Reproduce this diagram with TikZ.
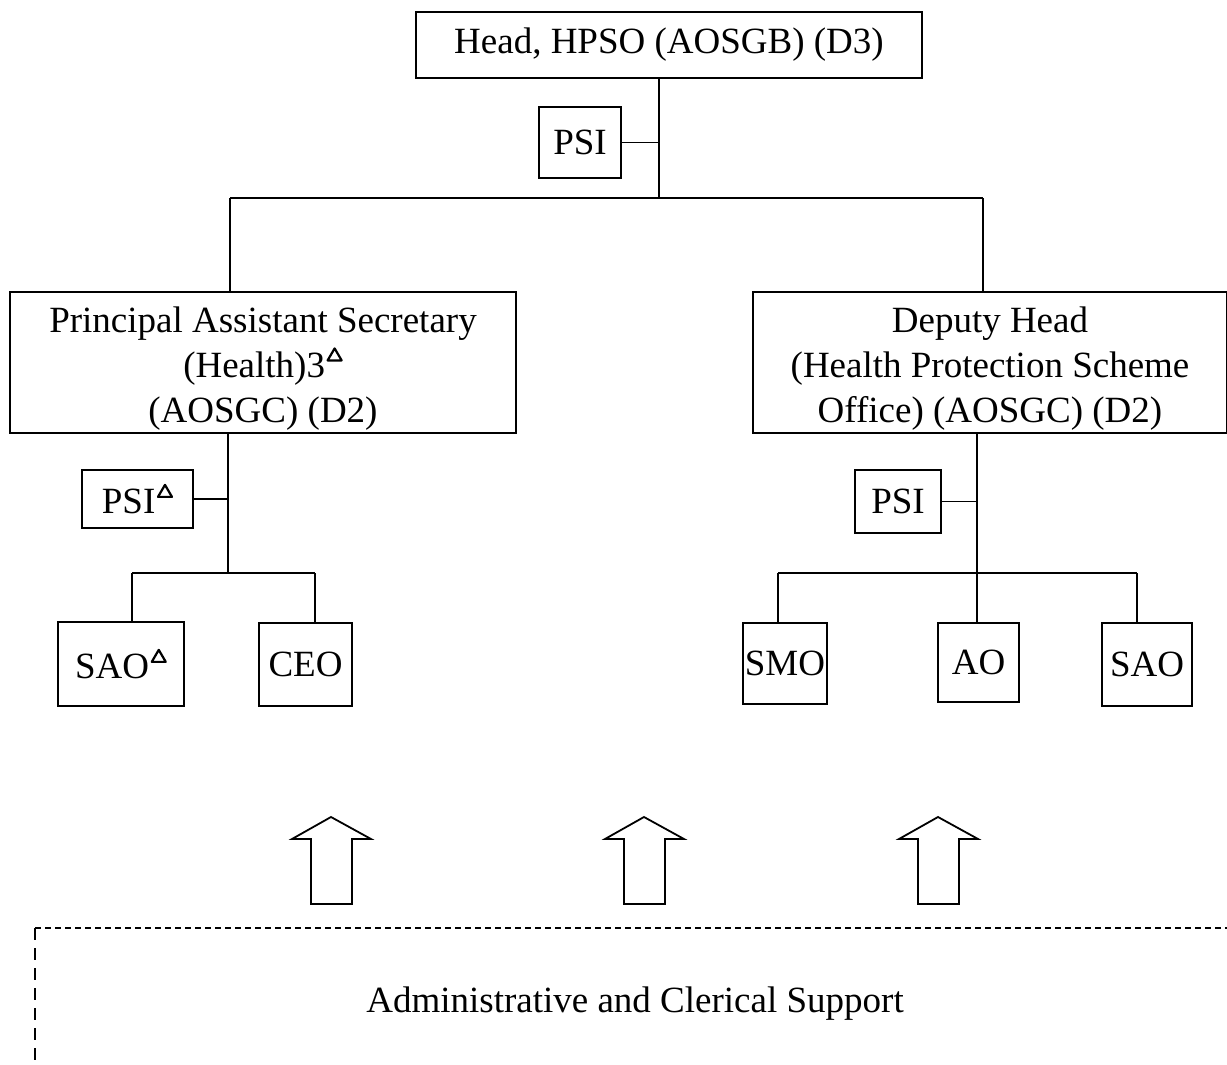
\documentclass[tikz,border=0pt]{standalone}
\usepackage{fontspec}
\setmainfont{Liberation Serif}
\newcommand{\tri}{\kern1.5pt\tikz[baseline=0pt,x=1pt,y=1pt]\draw[line width=2.2pt,line join=round] (0,17)--(14,17)--(7,29)--cycle;}
\begin{document}
\begin{tikzpicture}[x=1pt,y=-1pt,
  every node/.style={font=\fontsize{37}{45}\selectfont, inner sep=0pt, align=center},
  box/.style={draw, line width=1.8pt},
  conn/.style={line width=1.8pt},
  blockarrow/.style={draw, line width=1.8pt, line join=miter}
]
\useasboundingbox (0,0) rectangle (1227,1065);

% boxes
\node[box, minimum width=506pt, minimum height=66pt] (top) at (669,45) {Head, HPSO (AOSGB) (D3)};
\node[box, minimum width=82pt, minimum height=71pt] (psi) at (580,142.5) {PSI};
\node[box, minimum width=506pt, minimum height=141pt] (pas) at (263,362.5) {};
\node (pasT) at ([yshift=-6pt]pas.center) {Principal Assistant Secretary\\(Health)3\tri\\(AOSGC) (D2)};
\node[box, minimum width=474pt, minimum height=141pt] (dh) at (990,362.5) {};
\node (dhT) at ([yshift=-6pt]dh.center) {Deputy Head\\(Health Protection Scheme\\Office) (AOSGC) (D2)};
\node[box, minimum width=111pt, minimum height=58pt] (psiL) at (137.5,499) {PSI\tri};
\node[box, minimum width=86pt, minimum height=63pt] (psiR) at (898,501.5) {PSI};
\node[box, minimum width=126pt, minimum height=84pt] (saoL) at (121,664) {SAO\tri};
\node[box, minimum width=93pt, minimum height=83pt] (ceo) at (305.5,664.5) {CEO};
\node[box, minimum width=84pt, minimum height=81pt] (smo) at (785,663.5) {SMO};
\node[box, minimum width=81pt, minimum height=79pt] (ao) at (978.5,662.5) {AO};
\node[box, minimum width=90pt, minimum height=83pt] (saoR) at (1147,664.5) {SAO};

% junctions
\coordinate (j0) at (659,198);
\coordinate (jL) at (230,198);
\coordinate (jR) at (983,198);
\coordinate (jL2) at (228,573);
\coordinate (a1) at (132,573);
\coordinate (a2) at (315,573);
\coordinate (jR2) at (977,573);
\coordinate (b1) at (778,573);
\coordinate (b3) at (1137,573);

% connectors
\draw[conn] (top.south -| j0) -- (j0);
\draw[conn] (psi.east) -- (psi.east -| j0);
\draw[conn] (jL) -- (jR);
\draw[conn] (jL) -- (pas.north -| jL);
\draw[conn] (jR) -- (dh.north -| jR);

\draw[conn] (pas.south -| jL2) -- (jL2);
\draw[conn] (psiL.east) -- (psiL.east -| jL2);
\draw[conn] (a1) -- (a2);
\draw[conn] (a1) -- (saoL.north -| a1);
\draw[conn] (a2) -- (ceo.north -| a2);

\draw[conn] (dh.south -| jR2) -- (jR2);
\draw[conn] (psiR.east) -- (psiR.east -| jR2);
\draw[conn] (b1) -- (b3);
\draw[conn] (b1) -- (smo.north -| b1);
\draw[conn] (jR2) -- (ao.north -| jR2);
\draw[conn] (b3) -- (saoR.north -| b3);

% block arrows
\foreach \cx in {331,644,938}{
  \draw[blockarrow] (\cx-20,904) -- (\cx-20,839) -- (\cx-39,839) -- (\cx,817) -- (\cx+40,839) -- (\cx+21,839) -- (\cx+21,904) -- cycle;
}

% dashed support box
\coordinate (d0) at (35,928);
\coordinate (d1) at (1227,928);
\coordinate (d2) at (35,1065);
\draw[line width=1.4pt, dash pattern=on 6pt off 4pt] (d0) -- (d1);
\draw[line width=1.4pt, dash pattern=on 12pt off 8pt] (d0) -- (d2);
\node (sup) at (635,1004) {Administrative and Clerical Support};
\end{tikzpicture}
\end{document}
